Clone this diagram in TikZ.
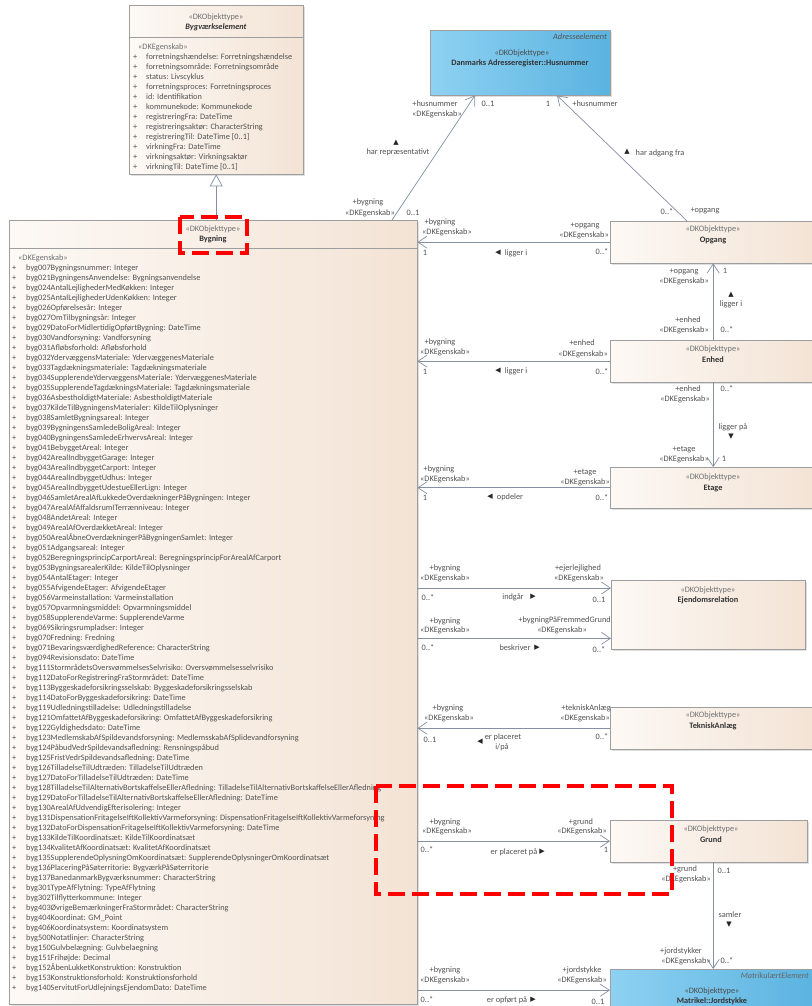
\documentclass[tikz,border=0pt]{standalone}
\usepackage{fontspec}
\setmainfont{Carlito}
\newfontfamily\symfont{DejaVu Sans}
\usetikzlibrary{arrows.meta,calc,shadows}
\definecolor{umlline}{HTML}{8590A3}
\definecolor{umlborder}{HTML}{9E9E9E}
\definecolor{peachlight}{HTML}{FDF9F5}
\definecolor{peachdark}{HTML}{F3E3D5}
\definecolor{bluelight}{HTML}{8ED1F2}
\definecolor{bluedark}{HTML}{5AB3E0}
\definecolor{txtgray}{HTML}{525252}
\definecolor{stereogray}{HTML}{707070}
\definecolor{markred}{HTML}{FF0000}
\tikzset{
  klasse/.style={
    draw=umlborder,
    left color=peachlight,
    right color=peachdark,
    anchor=north west,
    inner sep=0pt,
    minimum width=206pt,
    minimum height=42pt,
    drop shadow={shadow xshift=1.5pt,shadow yshift=-1.5pt,opacity=.25}
  },
  klasseblaa/.style={
    klasse,
    left color=bluelight,
    right color=bluedark
  },
  lbl/.style={
    font=\fontsize{8.3}{9}\selectfont,
    text=txtgray,
    inner sep=0pt,
    text height=5.8pt,
    text depth=1.6pt
  },
  attr/.style={lbl,anchor=west},
  stereo/.style={lbl,text=stereogray},
  navn/.style={lbl,text=black!80,font=\fontsize{8.3}{9}\selectfont\bfseries},
  pil/.style={
    font=\symfont\fontsize{7}{7}\selectfont,
    text=black!85,
    inner sep=0pt
  },
  assoc/.style={
    -{Straight Barb[length=9pt,width=12pt]},
    draw=umlline,
    line width=.7pt
  },
  gen/.style={
    -{Triangle[open,length=12pt,width=13pt]},
    draw=umlline,
    line width=.7pt
  },
  markering/.style={
    draw=markred,
    line width=4.5pt,
    dash pattern=on 17pt off 7pt
  }
}

\begin{document}
\begin{tikzpicture}[x=1pt,y=-1pt]
\useasboundingbox[fill=white] (0,0) rectangle (811,1006);

\node[klasse,minimum width=174pt,minimum height=169pt] (be) at (129,5) {};
\node[klasseblaa,minimum width=180pt,minimum height=65pt] (husnr) at (430,30) {};
\node[klasse,minimum width=408pt,minimum height=784pt] (bygning) at (9,220) {};
\node[klasse] (opgang) at (610,221) {};
\node[klasse] (enhed) at (610,340) {};
\node[klasse,minimum height=41pt] (etage) at (610,467) {};
\node[klasse,minimum width=194pt,minimum height=69pt] (ejendom) at (611,580) {};
\node[klasse] (teknisk) at (610,707) {};
\node[klasse,minimum width=197pt] (grund) at (610,820) {};
\node[klasseblaa] (jord) at (610,969) {};

\draw[umlborder] ($(be.north west)+(0,32)$) -- ($(be.north east)+(0,32)$);
\draw[umlborder] ($(bygning.north west)+(0,28)$) -- ($(bygning.north east)+(0,28)$);

\node[stereo] (be-st) at (216,17) {«DKObjekttype»};
\node[navn,font=\fontsize{8.3}{9}\selectfont\bfseries\itshape] (be-navn) at (216,27) {Bygværkselement};
\node[stereo,anchor=west] (be-eg) at (138,47) {«DKEgenskab»};
\foreach \a [count=\i] in {forretningshændelse: Forretningshændelse,
  forretningsområde: Forretningsområde, status: Livscyklus,
  forretningsproces: Forretningsproces, id: Identifikation,
  kommunekode: Kommunekode, registreringFra: DateTime,
  registreringsaktør: CharacterString, registreringTil: DateTime [0..1],
  virkningFra: DateTime, virkningsaktør: Virkningsaktør,
  virkningTil: DateTime [0..1]}{
  \node[attr] (be-plus\i) at (133,{47+10*\i}) {+};
  \node[attr] (be-attr\i) at (146,{47+10*\i}) {\a};
}

\node[lbl,anchor=east,font=\fontsize{8.3}{9}\selectfont\itshape] (husnr-pk) at (607,37) {Adresseelement};
\node[stereo,text=black!70] (husnr-st) at (522,53) {«DKObjekttype»};
\node[navn] (husnr-navn) at (520,63) {Danmarks Adresseregister::Husnummer};

\node[stereo] (bygning-st) at (213,229) {«DKObjekttype»};
\node[navn] (bygning-navn) at (213,239) {Bygning};
\node[stereo,anchor=west] (bygning-eg) at (18,258) {«DKEgenskab»};
\foreach \a [count=\i] in {byg007Bygningsnummer: Integer,
  byg021BygningensAnvendelse: Bygningsanvendelse,
  byg024AntalLejlighederMedKøkken: Integer,
  byg025AntalLejlighederUdenKøkken: Integer,
  byg026Opførelsesår: Integer,
  byg027OmTilbygningsår: Integer,
  byg029DatoForMidlertidigOpførtBygning: DateTime,
  byg030Vandforsyning: Vandforsyning,
  byg031Afløbsforhold: Afløbsforhold,
  byg032YdervæggensMateriale: YdervæggenesMateriale,
  byg033Tagdækningsmateriale: Tagdækningsmateriale,
  byg034SupplerendeYdervæggensMateriale: YdervæggenesMateriale,
  byg035SupplerendeTagdækningsMateriale: Tagdækningsmateriale,
  byg036AsbestholdigtMateriale: AsbestholdigtMateriale,
  byg037KildeTilBygningensMaterialer: KildeTilOplysninger,
  byg038SamletBygningsareal: Integer,
  byg039BygningensSamledeBoligAreal: Integer,
  byg040BygningensSamledeErhvervsAreal: Integer,
  byg041BebyggetAreal: Integer,
  byg042ArealIndbyggetGarage: Integer,
  byg043ArealIndbyggetCarport: Integer,
  byg044ArealIndbyggetUdhus: Integer,
  byg045ArealIndbyggetUdestueEllerLign: Integer,
  byg046SamletArealAfLukkedeOverdækningerPåBygningen: Integer,
  byg047ArealAfAffaldsrumITerrænniveau: Integer,
  byg048AndetAreal: Integer,
  byg049ArealAfOverdækketAreal: Integer,
  byg050ArealÅbneOverdækningerPåBygningenSamlet: Integer,
  byg051Adgangsareal: Integer,
  byg052BeregningsprincipCarportAreal: BeregningsprincipForArealAfCarport,
  byg053BygningsarealerKilde: KildeTilOplysninger,
  byg054AntalEtager: Integer,
  byg055AfvigendeEtager: AfvigendeEtager,
  byg056Varmeinstallation: Varmeinstallation,
  byg057Opvarmningsmiddel: Opvarmningsmiddel,
  byg058SupplerendeVarme: SupplerendeVarme,
  byg069Sikringsrumpladser: Integer,
  byg070Fredning: Fredning,
  byg071BevaringsværdighedReference: CharacterString,
  byg094Revisionsdato: DateTime,
  byg111StormrådetsOversvømmelsesSelvrisiko: Oversvømmelsesselvrisiko,
  byg112DatoForRegistreringFraStormrådet: DateTime,
  byg113Byggeskadeforsikringsselskab: Byggeskadeforsikringsselskab,
  byg114DatoForByggeskadeforsikring: DateTime,
  byg119Udledningstilladelse: Udledningstilladelse,
  byg121OmfattetAfByggeskadeforsikring: OmfattetAfByggeskadeforsikring,
  byg122Gyldighedsdato: DateTime,
  byg123MedlemskabAfSpildevandsforsyning: MedlemsskabAfSplidevandforsyning,
  byg124PåbudVedrSpildevandsafledning: Rensningspåbud,
  byg125FristVedrSpildevandsafledning: DateTime,
  byg126TilladelseTilUdtræden: TilladelseTilUdtræden,
  byg127DatoForTilladelseTilUdtræden: DateTime,
  byg128TilladelseTilAlternativBortskaffelseEllerAfledning: TilladelseTilAlternativBortskaffelseEllerAfledning,
  byg129DatoForTilladelseTilAlternativBortskaffelseEllerAfledning: DateTime,
  byg130ArealAfUdvendigEfterisolering: Integer,
  byg131DispensationFritagelseIftKollektivVarmeforsyning: DispensationFritagelseIftKollektivVarmeforsyning,
  byg132DatoForDispensationFritagelseIftKollektivVarmeforsyning: DateTime,
  byg133KildeTilKoordinatsæt: KildeTilKoordinatsæt,
  byg134KvalitetAfKoordinatsæt: KvalitetAfKoordinatsæt,
  byg135SupplerendeOplysningOmKoordinatsæt: SupplerendeOplysningerOmKoordinatsæt,
  byg136PlaceringPåSøterritorie: BygværkPåSøterritorie,
  byg137BanedanmarkBygværksnummer: CharacterString,
  byg301TypeAfFlytning: TypeAfFlytning,
  byg302Tilflytterkommune: Integer,
  byg403ØvrigeBemærkningerFraStormrådet: CharacterString,
  byg404Koordinat: GM\_Point,
  byg406Koordinatsystem: Koordinatsystem,
  byg500Notatlinjer: CharacterString,
  byg150Gulvbelægning: Gulvbelaegning,
  byg151Frihøjde: Decimal,
  byg152ÅbenLukketKonstruktion: Konstruktion,
  byg153Konstruktionsforhold: Konstruktionsforhold,
  byg140ServitutForUdlejningsEjendomDato: DateTime}{
  \node[attr] (bygning-plus\i) at (12,{258+10*\i}) {+};
  \node[attr] (bygning-attr\i) at (26,{258+10*\i}) {\a};
}

\node[stereo] (opgang-st) at (713,229) {«DKObjekttype»};
\node[navn] (opgang-navn) at (713,240) {Opgang};
\node[stereo] (enhed-st) at (713,349) {«DKObjekttype»};
\node[navn] (enhed-navn) at (713,360) {Enhed};
\node[stereo] (etage-st) at (713,477) {«DKObjekttype»};
\node[navn] (etage-navn) at (713,488) {Etage};
\node[stereo] (ejendom-st) at (708,590) {«DKObjekttype»};
\node[navn] (ejendom-navn) at (708,600) {Ejendomsrelation};
\node[stereo] (teknisk-st) at (713,715) {«DKObjekttype»};
\node[navn] (teknisk-navn) at (713,726) {TekniskAnlæg};
\node[stereo] (grund-st) at (711,829) {«DKObjekttype»};
\node[navn] (grund-navn) at (711,840) {Grund};
\node[lbl,anchor=east,font=\fontsize{8.3}{9}\selectfont\itshape,text=black!60] (jord-pk) at (809,976) {MatrikulærtElement};
\node[stereo,text=black!70] (jord-st) at (712,991) {«DKObjekttype»};
\node[navn] (jord-navn) at (712,1001) {Matrikel::Jordstykke};

\coordinate (ej1) at ($(ejendom.north west)+(0,8)$);
\coordinate (ej2) at ($(ejendom.south west)+(0,-11)$);

\draw[gen] (be.south |- bygning.north) -- (be.south);
\draw[assoc] ($(bygning.north west)+(383,0)$) -- ($(husnr.south west)+(45,0)$);
\draw[assoc] ($(opgang.north west)+(77,0)$) -- ($(husnr.south west)+(127,0)$);
\draw[assoc] (opgang.west) -- (bygning.east |- opgang.west);
\draw[assoc] (enhed.west) -- (bygning.east |- enhed.west);
\draw[assoc] (etage.west) -- (bygning.east |- etage.west);
\draw[assoc] (bygning.east |- ej1) -- (ej1);
\draw[assoc] (bygning.east |- ej2) -- (ej2);
\draw[assoc] (teknisk.west) -- (bygning.east |- teknisk.west);
\draw[assoc] (bygning.east |- grund.west) -- (grund.west);
\draw[assoc] (bygning.east |- jord.west) -- (jord.west);
\draw[assoc] (enhed.north) -- (opgang.south);
\draw[assoc] (enhed.south) -- (etage.north);
\draw[assoc] (jord.north |- grund.south) -- (jord.north);

\node[lbl] (hr-r1) at (435,104) {+husnummer};
\node[lbl] (hr-e1) at (437,114) {«DKEgenskab»};
\node[lbl] (hr-m1) at (488,104) {0..1};
\node[pil] (hr-pil) at (396,143) {▲};
\node[lbl] (hr-navn) at (398,152) {har repræsentativt};
\node[lbl] (hr-r2) at (368,202) {+bygning};
\node[lbl] (hr-e2) at (370,213) {«DKEgenskab»};
\node[lbl] (hr-m2) at (413,213) {0..1};

\node[lbl] (ha-m1) at (548,104) {1};
\node[lbl] (ha-r1) at (595,104) {+husnummer};
\node[pil] (ha-pil) at (627,152) {▲};
\node[lbl] (ha-navn) at (660,153) {har adgang fra};
\node[lbl] (ha-m2) at (667,212) {0..*};
\node[lbl] (ha-r2) at (705,210) {+opgang};

\node[lbl] (og-r1) at (440,222) {+bygning};
\node[lbl] (og-e1) at (447,232) {«DKEgenskab»};
\node[lbl] (og-m1) at (425,253) {1};
\node[pil] (og-pil) at (498,253) {◀};
\node[lbl] (og-navn) at (516,253) {ligger i};
\node[lbl] (og-r2) at (585,225) {+opgang};
\node[lbl,anchor=east] (og-e2) at (609,235) {«DKEgenskab»};
\node[lbl] (og-m2) at (602,252) {0..*};

\node[lbl] (oe-r1) at (684,271) {+opgang};
\node[lbl,anchor=east] (oe-e1) at (709,281) {«DKEgenskab»};
\node[lbl] (oe-m1) at (725,271) {1};
\node[pil] (oe-pil) at (731,295) {▲};
\node[lbl] (oe-navn) at (731,304) {ligger i};
\node[lbl] (oe-r2) at (688,320) {+enhed};
\node[lbl,anchor=east] (oe-e2) at (709,330) {«DKEgenskab»};
\node[lbl] (oe-m2) at (727,330) {0..*};

\node[lbl] (eh-r1) at (440,342) {+bygning};
\node[lbl] (eh-e1) at (445,352) {«DKEgenskab»};
\node[lbl] (eh-m1) at (425,372) {1};
\node[pil] (eh-pil) at (498,371) {◀};
\node[lbl] (eh-navn) at (516,371) {ligger i};
\node[lbl] (eh-r2) at (582,343) {+enhed};
\node[lbl,anchor=east] (eh-e2) at (608,354) {«DKEgenskab»};
\node[lbl] (eh-m2) at (602,372) {0..*};

\node[lbl] (ee-r1) at (688,389) {+enhed};
\node[lbl,anchor=east] (ee-e1) at (710,399) {«DKEgenskab»};
\node[lbl] (ee-m1) at (727,389) {0..*};
\node[lbl] (ee-navn) at (733,427) {ligger på};
\node[pil] (ee-pil) at (731,437) {▼};
\node[lbl] (ee-r2) at (684,449) {+etage};
\node[lbl,anchor=east] (ee-e2) at (709,459) {«DKEgenskab»};
\node[lbl] (ee-m2) at (724,459) {1};

\node[lbl] (et-r1) at (439,469) {+bygning};
\node[lbl] (et-e1) at (445,479) {«DKEgenskab»};
\node[lbl] (et-m1) at (425,498) {1};
\node[pil] (et-pil) at (490,497) {◀};
\node[lbl] (et-navn) at (510,497) {opdeler};
\node[lbl] (et-r2) at (585,472) {+etage};
\node[lbl,anchor=east] (et-e2) at (610,482) {«DKEgenskab»};
\node[lbl] (et-m2) at (602,498) {0..*};

\node[lbl] (ej1-r1) at (445,568) {+bygning};
\node[lbl] (ej1-e1) at (445,578) {«DKEgenskab»};
\node[lbl] (ej1-m1) at (428,598) {0..*};
\node[lbl] (ej1-navn) at (513,597) {indgår};
\node[pil] (ej1-pil) at (533,597) {▶};
\node[lbl] (ej1-r2) at (578,568) {+ejerlejlighed};
\node[lbl] (ej1-e2) at (579,578) {«DKEgenskab»};
\node[lbl] (ej1-m2) at (599,600) {0..1};

\node[lbl] (ej2-r1) at (445,621) {+bygning};
\node[lbl] (ej2-e1) at (445,630) {«DKEgenskab»};
\node[lbl] (ej2-m1) at (428,648) {0..*};
\node[lbl] (ej2-navn) at (515,648) {beskriver};
\node[pil] (ej2-pil) at (537,648) {▶};
\node[lbl,anchor=east] (ej2-r2) at (611,620) {+bygningPåFremmedGrund};
\node[lbl] (ej2-e2) at (562,630) {«DKEgenskab»};
\node[lbl] (ej2-m2) at (599,650) {0..*};

\node[lbl] (ta-r1) at (448,708) {+bygning};
\node[lbl] (ta-e1) at (449,718) {«DKEgenskab»};
\node[lbl] (ta-m1) at (430,740) {0..1};
\node[pil] (ta-pil) at (480,742) {◀};
\node[lbl] (ta-navn1) at (503,737) {er placeret};
\node[lbl] (ta-navn2) at (502,747) {i/på};
\node[lbl,anchor=east] (ta-r2) at (611,708) {+tekniskAnlæg};
\node[lbl,anchor=east] (ta-e2) at (610,718) {«DKEgenskab»};
\node[lbl] (ta-m2) at (602,737) {0..*};

\node[lbl] (gr-r1) at (445,822) {+bygning};
\node[lbl] (gr-e1) at (447,831) {«DKEgenskab»};
\node[lbl] (gr-m1) at (427,850) {0..*};
\node[lbl] (gr-navn) at (514,852) {er placeret på};
\node[pil] (gr-pil) at (542,852) {▶};
\node[lbl] (gr-r2) at (581,822) {+grund};
\node[lbl,anchor=east] (gr-e2) at (607,831) {«DKEgenskab»};
\node[lbl] (gr-m2) at (606,850) {1};

\node[lbl] (gj-r1) at (685,869) {+grund};
\node[lbl,anchor=east] (gj-e1) at (711,879) {«DKEgenskab»};
\node[lbl] (gj-m1) at (724,871) {0..1};
\node[lbl] (gj-navn) at (730,915) {samler};
\node[pil] (gj-pil) at (729,925) {▼};
\node[lbl] (gj-r2) at (681,951) {+jordstykker};
\node[lbl,anchor=east] (gj-e2) at (711,961) {«DKEgenskab»};
\node[lbl] (gj-m2) at (727,961) {0..*};

\node[lbl] (js-r1) at (445,970) {+bygning};
\node[lbl] (js-e1) at (445,980) {«DKEgenskab»};
\node[lbl] (js-m1) at (427,1000) {0..*};
\node[lbl] (js-navn) at (507,1000) {er opført på};
\node[pil] (js-pil) at (533,1000) {▶};
\node[lbl] (js-r2) at (582,970) {+jordstykke};
\node[lbl,anchor=east] (js-e2) at (607,980) {«DKEgenskab»};
\node[lbl] (js-m2) at (598,1002) {0..1};

\draw[markering] (180,217) rectangle (247,253);
\draw[markering] (376,786) rectangle (672,894);
\end{tikzpicture}
\end{document}
